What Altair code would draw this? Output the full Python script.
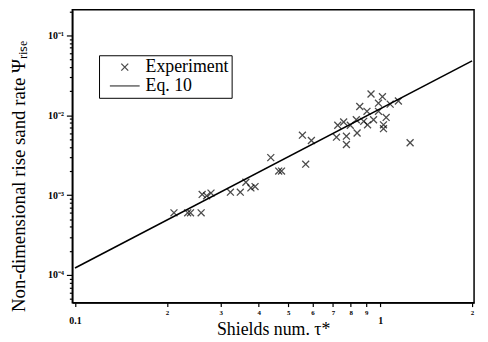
import altair as alt
import pandas as pd

# Experiment points (Shields number tau*, rise sand rate Psi_rise)
tau = [0.211, 0.234, 0.239, 0.259, 0.261, 0.270, 0.279, 0.323, 0.348, 0.363,
       0.377, 0.389, 0.438, 0.465, 0.475, 0.570, 0.556, 0.595, 0.719, 0.726,
       0.775, 0.775, 0.840, 0.759, 0.798, 0.835, 0.857, 0.883, 0.905, 0.909,
       0.933, 0.951, 0.987, 0.987, 1.017, 1.046, 1.025, 1.025, 1.078, 1.147,
       1.253]
psi = [6.0e-4, 6.0e-4, 6.0e-4, 6.0e-4, 1.02e-3, 9.8e-4, 1.06e-3, 1.09e-3, 1.09e-3, 1.45e-3,
       1.23e-3, 1.28e-3, 2.95e-3, 2.0e-3, 2.0e-3, 2.44e-3, 5.64e-3, 4.83e-3, 5.32e-3, 7.5e-3,
       5.48e-3, 4.31e-3, 6.0e-3, 8.24e-3, 7.5e-3, 8.8e-3, 1.29e-2, 8.4e-3, 1.12e-2, 7.6e-3,
       1.85e-2, 8.8e-3, 1.42e-2, 1.12e-2, 1.71e-2, 9.4e-3, 7.6e-3, 6.8e-3, 1.38e-2, 1.51e-2,
       4.53e-3]

# Eq. 10 line endpoints
line_tau = [0.1, 2.0]
line_psi = [1.22e-4, 4.8e-2]

series = ["Experiment", "Eq. 10"]

x_ticks = [0.1, 0.2, 0.3, 0.4, 0.5, 0.6, 0.7, 0.8, 0.9, 1.0, 2.0]
y_ticks = [5e-5, 6e-5, 7e-5, 8e-5, 9e-5,
           1e-4, 2e-4, 3e-4, 4e-4, 5e-4, 6e-4, 7e-4, 8e-4, 9e-4,
           1e-3, 2e-3, 3e-3, 4e-3, 5e-3, 6e-3, 7e-3, 8e-3, 9e-3,
           1e-2, 2e-2, 3e-2, 4e-2, 5e-2, 6e-2, 7e-2, 8e-2, 9e-2,
           1e-1, 2e-1]

pts = pd.DataFrame({"tau": tau, "psi": psi, "series": "Experiment"})
line = pd.DataFrame({"tau": line_tau, "psi": line_psi})

XPATH = "M-1,-1L1,1M1,-1L-1,1"
LPATH = "M-4.3,0L4.3,0"

FONT = "Liberation Serif"
is_decade = "abs(log(datum.value)/LN10 - round(log(datum.value)/LN10)) < 0.01"
big_x = "datum.value < 0.15 || abs(datum.value - 1) < 0.01"

xscale = alt.Scale(type="log", domain=[0.098, 2.03], nice=False)
yscale = alt.Scale(type="log", domain=[4.5e-5, 0.21], nice=False)

xaxis = alt.Axis(
    values=x_ticks,
    title="Shields num. τ*",
    titleFont=FONT, titleFontSize=18, titleFontWeight="normal",
    titleY=32, titleBaseline="alphabetic",
    labelExpr="datum.value < 0.15 ? '0.1' : (abs(datum.value - 1) < 0.01 ? '1' : format(datum.value < 1 ? datum.value * 10 : datum.value, '.0f'))",
    labelFont=FONT, labelFontWeight="bold",
    labelFontSize={"condition": {"test": big_x, "value": 10}, "value": 7},
    labelPadding={"condition": {"test": big_x, "value": 9}, "value": 2},
    tickSize=4, tickColor="black", tickWidth=1.2,
    grid=False, domainColor="black", domainWidth=1.5, labelColor="black",
)

yaxis = alt.Axis(
    values=y_ticks,
    title="Non-dimensional rise sand rate Ψᵣᵢₛₑ",
    titleFont=FONT, titleFontSize=19, titleFontWeight="normal",
    titleX=-44, titleY=168, titleAlign="center",
    labelExpr=("(" + is_decade + ") ? (round(log(datum.value)/LN10) == -1 ? '10⁻¹' : "
               "round(log(datum.value)/LN10) == -2 ? '10⁻²' : "
               "round(log(datum.value)/LN10) == -3 ? '10⁻³' : "
               "round(log(datum.value)/LN10) == -4 ? '10⁻⁴' : '') : ''"),
    labelFont=FONT, labelFontWeight="bold", labelFontSize=10,
    labelPadding=3,
    tickSize={"condition": {"test": is_decade, "value": 6}, "value": 3},
    tickColor="black", tickWidth=1.2,
    grid=False, domainColor="black", domainWidth=1.5, labelColor="black",
)

points = alt.Chart(pts).mark_point(filled=False, color="black", size=49, strokeWidth=1.3).encode(
    x=alt.X("tau:Q", scale=xscale, axis=xaxis),
    y=alt.Y("psi:Q", scale=yscale, axis=yaxis),
    shape=alt.Shape("series:N", scale=alt.Scale(domain=series, range=[XPATH, LPATH]),
                    legend=alt.Legend(
                        title=None, orient="none", legendX=27, legendY=46,
                        labelFont=FONT, labelFontSize=18, labelColor="black",
                        symbolSize=49, symbolStrokeColor="black", symbolStrokeWidth=1.3,
                        symbolFillColor="transparent",
                        strokeColor="black", padding=3, rowPadding=1,
                        labelOffset=12, symbolOffset=14,
                    )),
)

eq = alt.Chart(line).mark_line(color="black", strokeWidth=1.6).encode(
    x=alt.X("tau:Q", scale=xscale),
    y=alt.Y("psi:Q", scale=yscale),
)

chart = alt.layer(eq, points).properties(
    width=406, height=296,
    padding={"left": 2, "top": 0, "right": 4, "bottom": 0},
    background="white",
).configure_view(stroke="black", strokeWidth=1.5)

chart.save("out.html", embed_options={"renderer": "svg", "actions": False})
